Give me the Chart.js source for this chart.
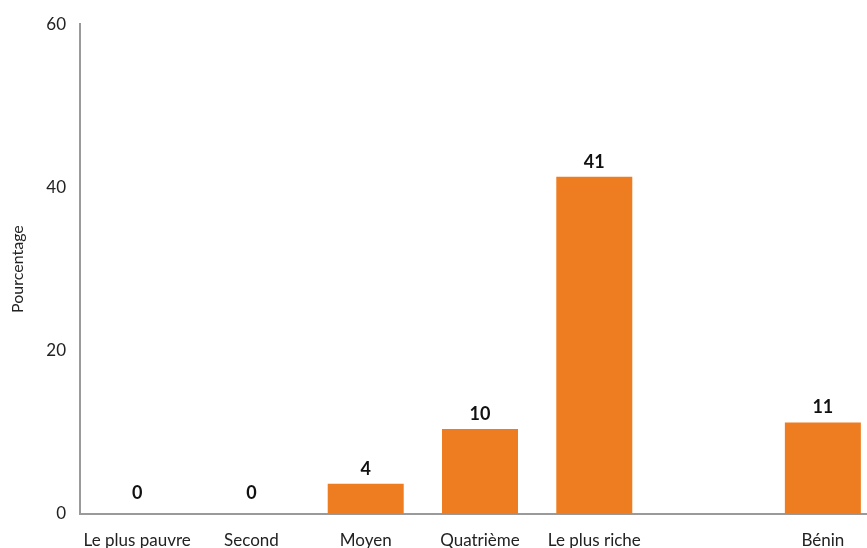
<!DOCTYPE html>
<html>
<head>
<meta charset="utf-8">
<script src="https://cdn.jsdelivr.net/npm/chart.js@4/dist/chart.umd.min.js"></script>
<style>
  html, body { margin: 0; padding: 0; background: #fff; overflow: hidden; }
  #wrap { position: absolute; left: 0; top: 0; width: 880px; height: 560px; }
</style>
</head>
<body>
<div id="wrap"><canvas id="chart" width="880" height="560"></canvas></div>
<script>
// categories and values
const categories = ['Le plus pauvre', 'Second', 'Moyen', 'Quatrième', 'Le plus riche', '', 'Bénin'];
const values = [0, 0, 3.7, 10.4, 41.3, null, 11.2];
const yTicks = [0, 20, 40, 60];

const barColor = '#EE7D22';
const axisColor = '#9a9a9a';
const textColor = '#222222';
const fontFamily = 'Lato, "Open Sans", sans-serif';

// draws the rounded value above each bar
const valueLabels = {
    id: 'valueLabels',
    afterDatasetsDraw(chart) {
        const ctx = chart.ctx;
        const meta = chart.getDatasetMeta(0);
        ctx.save();
        ctx.font = 'bold 18px ' + fontFamily;
        ctx.fillStyle = '#111';
        ctx.textAlign = 'center';
        ctx.textBaseline = 'bottom';
        meta.data.forEach((bar, i) => {
            const v = values[i];
            if (v === null) return;
            const lift = v === 0 ? 12 : 6;
            ctx.fillText(String(Math.round(v)), bar.x, bar.y - lift);
        });
        ctx.restore();
    }
};

new Chart(document.getElementById('chart').getContext('2d'), {
    type: 'bar',
    data: {
        labels: categories,
        datasets: [{
            data: values,
            backgroundColor: barColor,
            borderWidth: 0,
            categoryPercentage: 1,
            barPercentage: 0.665
        }]
    },
    options: {
        responsive: false,
        animation: false,
        layout: { padding: { top: 24, left: 8, right: 0, bottom: 0 } },
        plugins: {
            legend: { display: false },
            tooltip: { enabled: false }
        },
        scales: {
            x: {
                grid: { display: false, drawTicks: false },
                border: { color: axisColor, width: 2 },
                ticks: {
                    color: textColor,
                    padding: 16,
                    maxRotation: 0,
                    autoSkip: false,
                    font: { family: fontFamily, size: 17 }
                },
                afterFit: axis => { axis.height = 46; }
            },
            y: {
                min: 0,
                max: 60,
                grid: { display: false, drawTicks: false },
                border: { color: axisColor, width: 2 },
                afterBuildTicks: axis => { axis.ticks = yTicks.map(v => ({ value: v })); },
                ticks: {
                    color: textColor,
                    padding: 14,
                    font: { family: fontFamily, size: 17 }
                },
                title: {
                    display: true,
                    text: 'Pourcentage',
                    color: textColor,
                    padding: 0,
                    font: { family: fontFamily, size: 16 }
                },
                afterFit: axis => { axis.width = 72; }
            }
        }
    },
    plugins: [valueLabels]
});
</script>
</body>
</html>
